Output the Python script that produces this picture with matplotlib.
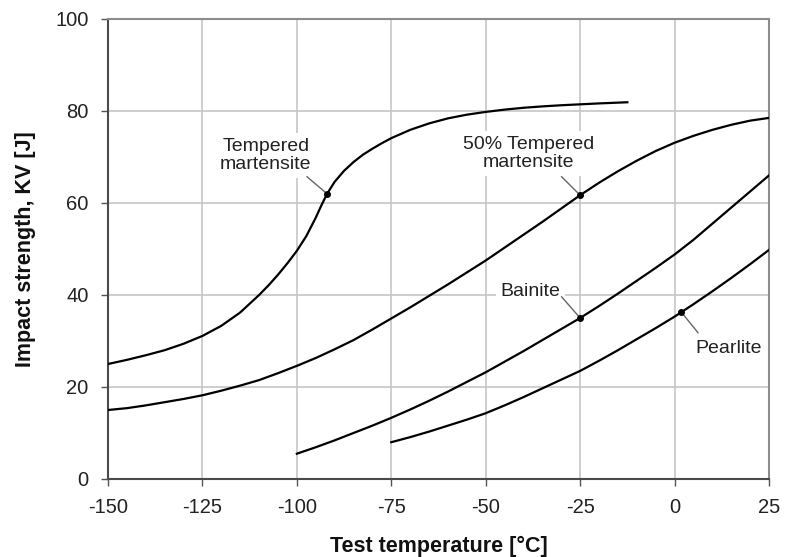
import numpy as np
import matplotlib
matplotlib.use("Agg")
import matplotlib.pyplot as plt

plt.rcParams["font.family"] = ["Liberation Sans", "DejaVu Sans"]

# Impact strength (KV, J) versus test temperature (deg C) for four microstructures
temp_tm = [-150, -145, -140, -135, -130, -125, -120, -115, -110, -107.5, -105,
           -102.5, -100, -97.5, -95, -93.5, -92, -90, -87.5, -85, -82.5, -80,
           -77.5, -75, -70, -65, -60, -55, -50, -45, -40, -35, -30, -25, -20, -12.5]
kv_tm = [25.0, 25.9, 26.9, 28.0, 29.4, 31.1, 33.3, 36.2, 40.0, 42.1, 44.4,
         46.9, 49.6, 52.8, 56.8, 59.5, 62.0, 64.6, 67.0, 68.9, 70.5, 71.8,
         73.0, 74.1, 75.9, 77.3, 78.4, 79.2, 79.8, 80.3, 80.7, 81.0, 81.25, 81.45,
         81.65, 81.9]

temp_50 = [-150, -145, -140, -135, -130, -125, -120, -115, -110, -105, -100, -95,
           -90, -85, -80, -75, -70, -65, -60, -55, -50, -45, -40, -35, -30, -25,
           -20, -15, -10, -5, 0, 5, 10, 15, 20, 25]
kv_50 = [15.0, 15.4, 16.0, 16.7, 17.4, 18.2, 19.2, 20.3, 21.5, 23.0, 24.6, 26.3,
         28.2, 30.2, 32.5, 34.9, 37.3, 39.8, 42.3, 44.9, 47.5, 50.3, 53.1, 55.9,
         58.8, 61.7, 64.4, 66.9, 69.2, 71.3, 73.1, 74.6, 75.9, 77.0, 77.9, 78.5]

temp_bainite = [-100, -95, -90, -85, -80, -75, -70, -65, -60, -55, -50, -45, -40,
                -35, -30, -25, -20, -15, -10, -5, 0, 5, 10, 15, 20, 25]
kv_bainite = [5.5, 6.9, 8.4, 10.0, 11.6, 13.3, 15.1, 17.0, 19.0, 21.1, 23.2, 25.5,
              27.8, 30.2, 32.6, 35.0, 37.6, 40.3, 43.1, 45.9, 48.8, 52.0, 55.5,
              59.0, 62.5, 66.0]

temp_pearlite = [-75, -70, -65, -60, -55, -50, -45, -40, -35, -30, -25, -20, -15,
                 -10, -5, 0, 5, 10, 15, 20, 25]
kv_pearlite = [8.0, 9.1, 10.3, 11.6, 12.9, 14.3, 16.0, 17.8, 19.7, 21.6, 23.5, 25.7,
               28.0, 30.4, 32.8, 35.3, 38.0, 40.8, 43.7, 46.7, 49.8]

series_names = ["Tempered\nmartensite", "50% Tempered\nmartensite", "Bainite", "Pearlite"]
series_temps = [temp_tm, temp_50, temp_bainite, temp_pearlite]
series_kv = [kv_tm, kv_50, kv_bainite, kv_pearlite]

# Where each curve is tagged with a dot, and where its label sits
marker_temps = [-92, -25, -25, 1.8]
label_pos = [(-108.2, 70.3), (-38.6, 70.8), (-38.1, 40.7), (14.2, 28.3)]
leader_start = [(-97.3, 65.7), (-29.9, 65.7), (-29.9, 39.6), (6.2, 31.8)]

x_ticks = [-150, -125, -100, -75, -50, -25, 0, 25]
y_ticks = [0, 20, 40, 60, 80, 100]

fig = plt.figure(figsize=(7.85, 5.57), dpi=100)
ax = fig.add_axes([108 / 785, 1 - 479 / 557, (769 - 108) / 785, (479 - 19) / 557])

ax.set_xlim(-150, 25)
ax.set_ylim(0, 100)
ax.set_xticks(x_ticks)
ax.set_yticks(y_ticks)
ax.set_xticklabels([str(v) for v in x_ticks])
ax.set_yticklabels([str(v) for v in y_ticks])

ax.grid(True, color="#c6c6c6", linewidth=1.2, zorder=0)
ax.set_axisbelow(True)

for side in ("left", "bottom"):
    ax.spines[side].set_color("#4a4a4a")
    ax.spines[side].set_linewidth(1.5)
for side in ("top", "right"):
    ax.spines[side].set_color("#8c8c8c")
    ax.spines[side].set_linewidth(1.5)

ax.tick_params(direction="out", length=5, width=1.0, color="#555555",
               pad=9, labelsize=14.5, labelcolor="#222222")

for t, kv in zip(series_temps, series_kv):
    ax.plot(t, kv, color="black", linewidth=1.6, zorder=4,
            solid_joinstyle="round")

for name, t, kv, mt, (lx, ly), (sx, sy) in zip(series_names, series_temps, series_kv,
                                               marker_temps, label_pos, leader_start):
    my = float(np.interp(mt, t, kv))
    ax.plot([sx, mt], [sy, my], color="#666666", linewidth=1.0, zorder=3)
    ax.plot([mt], [my], "o", color="black", markersize=4, zorder=5)
    ax.text(lx, ly, name, ha="center", va="center", multialignment="center",
            fontsize=14, color="#222222", linespacing=1.1, zorder=2,
            bbox=dict(boxstyle="square,pad=0.25", facecolor="white", edgecolor="none"))

ax.set_xlabel("Test temperature [°C]", fontsize=15.5, fontweight="bold",
              color="#111111", labelpad=13)
ax.set_ylabel("Impact strength, KV [J]", fontsize=15.5, fontweight="bold",
              color="#111111", labelpad=14)

fig.savefig("out.png", dpi=100)
